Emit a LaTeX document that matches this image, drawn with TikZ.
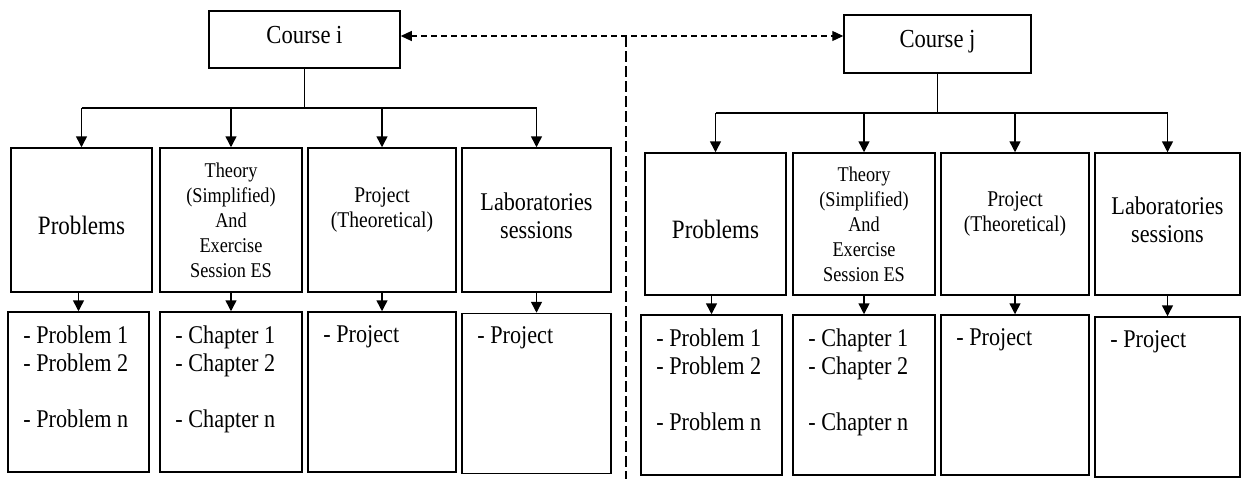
\documentclass[tikz,border=0pt]{standalone}
\usepackage{fontspec}
\setmainfont{Liberation Serif}[FakeStretch=0.87]
\usetikzlibrary{arrows.meta,positioning,calc}
\tikzset
{
    titlebox/.style = {rectangle, draw=black, line width=1.5pt, align=center, inner sep=0pt, font=\fontsize{26}{30}\selectfont, text depth=10pt},
    headbox/.style  = {rectangle, draw=black, line width=1.5pt, align=center, inner sep=0pt},
    listbox/.style  = {rectangle, draw=black, line width=1.5pt, inner sep=0pt, minimum height=160pt},
    listtext/.style = {align=left, inner sep=0pt, anchor=north west, font=\fontsize{25.5}{28}\selectfont},
    probfont/.style = {font=\fontsize{26.5}{30}\selectfont, text height=28pt, text depth=0pt},
    theofont/.style = {font=\fontsize{21}{25}\selectfont},
    projfont/.style = {font=\fontsize{22.5}{25}\selectfont, text depth=25pt},
    labfont/.style  = {font=\fontsize{25.5}{28}\selectfont, text depth=8pt},
    wire/.style     = {line width=1.5pt},
    arrow/.style    = {line width=1.5pt, -{Triangle[width=11pt,length=11pt]}},
    link/.style     = {line width=1.2pt, dash pattern=on 6pt off 4pt, {Triangle[width=10pt,length=11pt]}-{Triangle[width=10pt,length=11pt]}},
    divider/.style  = {line width=1.2pt, dash pattern=on 11pt off 4pt}
}

\begin{document}
\begin{tikzpicture}[x=1pt, y=-1pt]
\useasboundingbox (0,0) rectangle (1241,479);
% course i
\node(ci) [titlebox, minimum width=191pt, minimum height=57pt] at (304.5,39.5) {Course i};
\node(p1) [headbox, probfont, minimum width=141pt, minimum height=144pt] at (81.5,220) {Problems};
\node(t1) [headbox, theofont, minimum width=142pt, minimum height=144pt] at (231,220) {Theory\\(Simplified)\\And\\Exercise\\Session ES};
\node(j1) [headbox, projfont, minimum width=148pt, minimum height=144pt] at (382,220) {Project\\(Theoretical)};
\node(l1) [headbox, labfont, minimum width=149pt, minimum height=144pt] at (536.5,220) {Laboratories\\sessions};
\node(p2) [listbox, minimum width=141pt] at (78.5,392) {};
\node(t2) [listbox, minimum width=142pt] at (231,392) {};
\node(j2) [listbox, minimum width=148pt] at (382,392) {};
\node(l2) [listbox, minimum width=149pt] at (536.5,393.5) {};
\node(p2t) [listtext] at ([shift={(16,14)}]p2.north west) {- Problem 1\\- Problem 2\\[28pt]- Problem n};
\node(t2t) [listtext] at ([shift={(16,14)}]t2.north west) {- Chapter 1\\- Chapter 2\\[28pt]- Chapter n};
\node(j2t) [listtext] at ([shift={(16,14)}]j2.north west) {- Project};
\node(l2t) [listtext] at ([shift={(16,14)}]l2.north west) {- Project};
% course j
\node(cj) [titlebox, minimum width=187pt, minimum height=58pt] at (937.5,44) {Course j};
\node(p3) [headbox, probfont, minimum width=141pt, minimum height=142pt] at (715.5,224) {Problems};
\node(t3) [headbox, theofont, minimum width=142pt, minimum height=142pt] at (864,224) {Theory\\(Simplified)\\And\\Exercise\\Session ES};
\node(j3) [headbox, projfont, minimum width=148pt, minimum height=142pt] at (1015,224) {Project\\(Theoretical)};
\node(l3) [headbox, labfont, minimum width=145pt, minimum height=142pt] at (1167.5,224) {Laboratories\\sessions};
\node(p4) [listbox, minimum width=141pt] at (711.5,395) {};
\node(t4) [listbox, minimum width=142pt] at (864,395) {};
\node(j4) [listbox, minimum width=148pt] at (1015,395) {};
\node(l4) [listbox, minimum width=145pt] at (1167.5,397) {};
\node(p4t) [listtext] at ([shift={(16,14)}]p4.north west) {- Problem 1\\- Problem 2\\[28pt]- Problem n};
\node(t4t) [listtext] at ([shift={(16,14)}]t4.north west) {- Chapter 1\\- Chapter 2\\[28pt]- Chapter n};
\node(j4t) [listtext] at ([shift={(16,14)}]j4.north west) {- Project};
\node(l4t) [listtext] at ([shift={(16,14)}]l4.north west) {- Project};
% connectors
\coordinate (ciBus) at (ci.south |- 0,108);
\coordinate (cjBus) at (cj.south |- 0,113);
\draw[wire] (ci.south) -- (ciBus);
\draw[wire] (cj.south) -- (cjBus);
\draw[wire] (p1.north |- ciBus) -- (l1.north |- ciBus);
\draw[wire] (p3.north |- cjBus) -- (l3.north |- cjBus);
\foreach \n in {p1,t1,j1,l1}
{
    \draw[arrow] (\n.north |- ciBus) -- (\n.north);
}
\foreach \n in {p3,t3,j3,l3}
{
    \draw[arrow] (\n.north |- cjBus) -- (\n.north);
}
\foreach \a/\b in {p1/p2,t1/t2,j1/j2,l1/l2,p3/p4,t3/t4,j3/j4,l3/l4}
{
    \draw[arrow] (\b.north |- \a.south) -- (\b.north);
}
\coordinate (splitTop) at (626,36);
\coordinate (splitEnd) at (626,479);
\draw[link] (ci.east |- splitTop) -- (cj.west |- splitTop);
\draw[divider] (splitTop) -- (splitEnd);
\end{tikzpicture}
\end{document}
